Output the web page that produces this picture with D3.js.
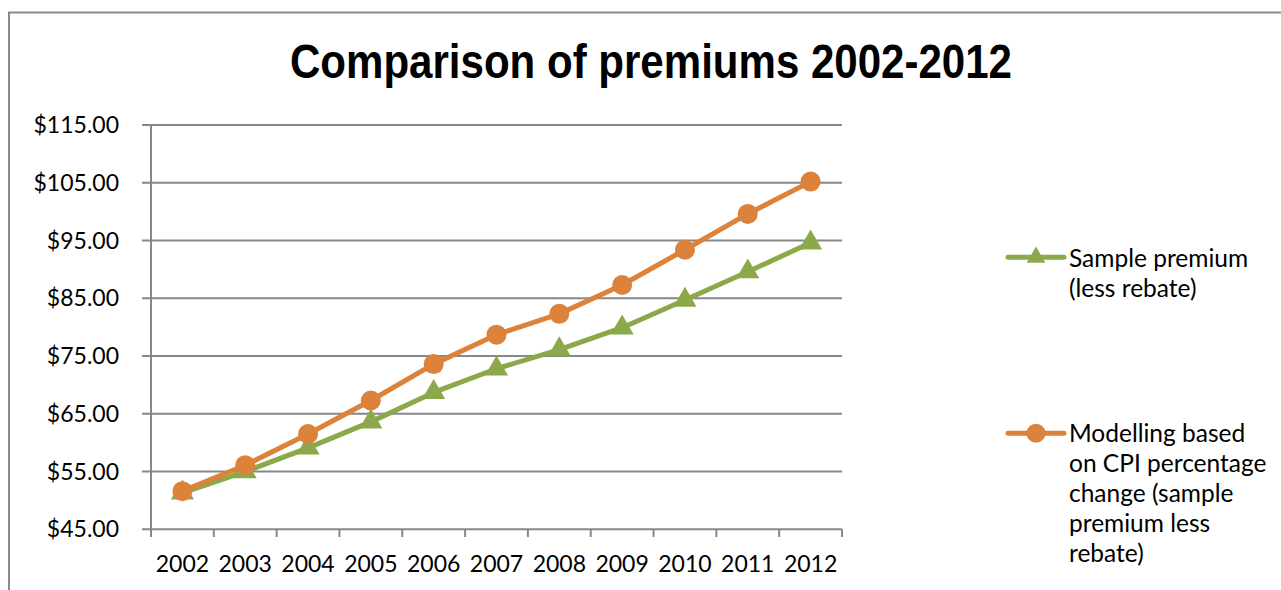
<!DOCTYPE html>
<html>
<head>
<meta charset="utf-8">
<script src="https://cdn.jsdelivr.net/npm/d3@7"></script>
<style>
  html, body { margin: 0; padding: 0; background: #fff; }
  svg { display: block; }
</style>
</head>
<body>
<svg id="chart" width="1281" height="590"></svg>
<script>
const title = "Comparison of premiums 2002-2012";
const years = ["2002","2003","2004","2005","2006","2007","2008","2009","2010","2011","2012"];
const samplePremium = [51.3, 55.0, 59.1, 63.6, 68.7, 72.8, 76.1, 79.9, 84.7, 89.6, 94.6];
const cpiModelling = [51.6, 56.1, 61.5, 67.3, 73.6, 78.7, 82.3, 87.3, 93.4, 99.6, 105.2];
const yTicks = [45, 55, 65, 75, 85, 95, 105, 115];
const seriesNames = [
  ["Sample premium", "(less rebate)"],
  ["Modelling based", "on CPI percentage", "change (sample", "premium less", "rebate)"]
];

const GREEN = "#8BA84A", ORANGE = "#DC823A", GRID = "#878787";
const FONT = "Lato, 'Open Sans', sans-serif";

const svg = d3.select("#chart");

// outer frame
svg.append("rect").attr("x", 9).attr("y", 12.5).attr("width", 1300).attr("height", 600)
  .attr("fill", "none").attr("stroke", "#8a8a8a").attr("stroke-width", 2);

// title
svg.append("text").attr("x", 651).attr("y", 78).attr("text-anchor", "middle")
  .attr("font-family", "'Liberation Sans Narrow', 'Arial Narrow', 'Liberation Sans', sans-serif")
  .attr("font-weight", "bold").attr("font-size", 48).attr("fill", "#000")
  .attr("textLength", 722).attr("lengthAdjust", "spacingAndGlyphs")
  .text(title);

const x = d3.scaleBand().domain(years).range([151, 842]);
const y = d3.scaleLinear().domain([45, 115]).range([529.3, 125]);

// gridlines
svg.append("g").selectAll("line").data(yTicks).join("line")
  .attr("x1", 142).attr("x2", 842)
  .attr("y1", d => y(d)).attr("y2", d => y(d))
  .attr("stroke", GRID).attr("stroke-width", 2);

// y axis labels
svg.append("g").selectAll("text").data(yTicks).join("text")
  .attr("x", 119).attr("y", d => y(d) + 8).attr("text-anchor", "end")
  .attr("font-family", FONT).attr("font-size", 23).attr("fill", "#000")
  .text(d => "$" + d3.format(".2f")(d));

// y axis line
svg.append("line").attr("x1", 151).attr("x2", 151).attr("y1", 125).attr("y2", 537)
  .attr("stroke", GRID).attr("stroke-width", 2);

// x ticks
const tickPos = years.map(d => x(d)).concat([x.range()[1]]);
svg.append("g").selectAll("line").data(tickPos).join("line")
  .attr("x1", d => d).attr("x2", d => d).attr("y1", 529.3).attr("y2", 537)
  .attr("stroke", GRID).attr("stroke-width", 2);

// x labels
svg.append("g").selectAll("text").data(years).join("text")
  .attr("x", d => x(d) + x.bandwidth() / 2).attr("y", 572).attr("text-anchor", "middle")
  .attr("font-family", FONT).attr("font-size", 23).attr("fill", "#000").text(d => d);

const cx = d => x(d) + x.bandwidth() / 2;
const line = d3.line().x(d => cx(d[0])).y(d => y(d[1]));

const greenData = years.map((yr, i) => [yr, samplePremium[i]]);
const orangeData = years.map((yr, i) => [yr, cpiModelling[i]]);

const triPath = d3.symbol().type(d3.symbolTriangle).size(230);
const triLegend = d3.symbol().type(d3.symbolTriangle).size(150);

// green series
svg.append("path").datum(greenData).attr("d", line).attr("fill", "none")
  .attr("stroke", GREEN).attr("stroke-width", 5).attr("stroke-linejoin", "round");
svg.append("g").selectAll("path").data(greenData).join("path")
  .attr("d", triPath).attr("transform", d => `translate(${cx(d[0])},${y(d[1])})`)
  .attr("fill", GREEN);

// orange series
svg.append("path").datum(orangeData).attr("d", line).attr("fill", "none")
  .attr("stroke", ORANGE).attr("stroke-width", 5).attr("stroke-linejoin", "round");
svg.append("g").selectAll("circle").data(orangeData).join("circle")
  .attr("cx", d => cx(d[0])).attr("cy", d => y(d[1])).attr("r", 10)
  .attr("fill", ORANGE);

// legend
const legend = [
  {color: GREEN, marker: "tri", y: 257.3, lines: seriesNames[0], base: 266.7},
  {color: ORANGE, marker: "circle", y: 433.3, lines: seriesNames[1], base: 441.7}
];
legend.forEach(l => {
  const g = svg.append("g");
  g.append("line").attr("x1", 1008).attr("x2", 1064).attr("y1", l.y).attr("y2", l.y)
    .attr("stroke", l.color).attr("stroke-width", 5).attr("stroke-linecap", "round");
  if (l.marker === "tri") {
    g.append("path").attr("d", triLegend).attr("transform", `translate(1036,${l.y})`).attr("fill", l.color);
  } else {
    g.append("circle").attr("cx", 1036).attr("cy", l.y).attr("r", 9.5).attr("fill", l.color);
  }
  g.selectAll("text").data(l.lines).join("text")
    .attr("x", 1069).attr("y", (d, i) => l.base + i * 30)
    .attr("font-family", FONT).attr("font-size", 24.5).attr("fill", "#000").text(d => d);
});
</script>
</body>
</html>
